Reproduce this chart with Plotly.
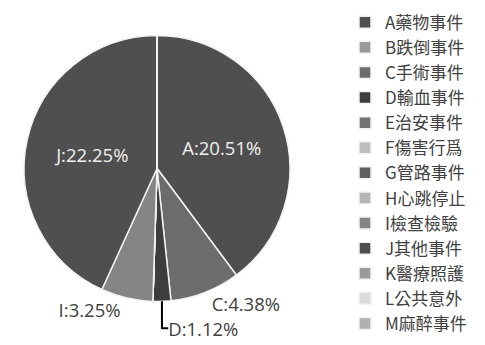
import plotly.graph_objects as go

labels = ["A藥物事件", "B跌倒事件", "C手術事件", "D輸血事件", "E治安事件", "F傷害行爲",
          "G管路事件", "H心跳停止", "I檢查檢驗", "J其他事件", "K醫療照護", "L公共意外", "M麻醉事件"]
values = [20.51, 0, 4.38, 1.12, 0, 0, 0, 0, 3.25, 22.25, 0, 0, 0]
slice_text = ["A:20.51%", "", "C:4.38%", "D:1.12%", "", "", "", "", "I:3.25%", "J:22.25%", "", "", ""]
colors = ["#4f4f4f", "#9a9a9a", "#6c6c6c", "#3d3d3d", "#727272", "#bdbdbd",
          "#5f5f5f", "#b6b6b6", "#858585", "#4f4f4f", "#9a9a9a", "#dcdcdc", "#b0b0b0"]
text_pos = ["inside" if v > 10 else "outside" for v in values]
text_col = ["#f0f0f0" if v > 10 else "#404040" for v in values]

fig = go.Figure(go.Pie(
    labels=labels, values=values, text=slice_text, textinfo="text",
    textposition=text_pos, sort=False, direction="clockwise", rotation=0,
    marker=dict(colors=colors, line=dict(color="#f2f2f2", width=1.5)),
    textfont=dict(family="Open Sans, Noto Sans CJK TC", size=18.5, color=text_col),
    insidetextorientation="horizontal",
    domain=dict(x=[15/485, 299/485], y=[23/345, 307/345]),
    hoverinfo="label+value",
))

fig.update_layout(
    width=485, height=345,
    margin=dict(l=0, r=0, t=0, b=0),
    paper_bgcolor="white", plot_bgcolor="white",
    showlegend=True,
    legend=dict(x=345/485, y=1 - 5/345, xanchor="left", yanchor="top",
                maxheight=345, borderwidth=0,
                font=dict(family="Noto Sans CJK TC, Open Sans", size=17, color="#404040"),
                bgcolor="rgba(0,0,0,0)", itemclick=False),
)

fig.write_html("out.html")
